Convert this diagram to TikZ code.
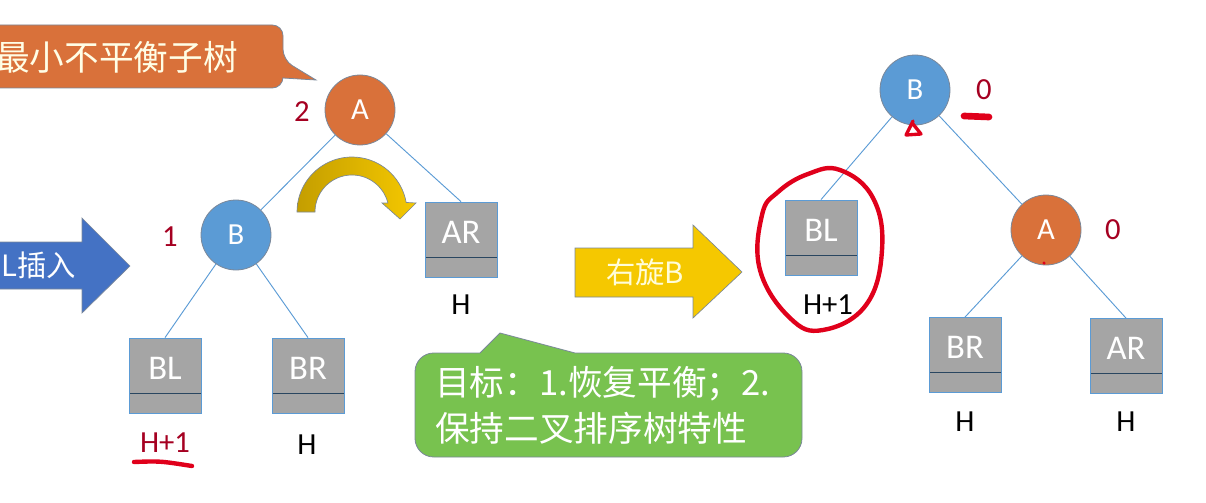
\documentclass[tikz,border=0pt]{standalone}
\usepackage{fontspec}
\setmainfont{Carlito}
\newfontfamily\cjk{Noto Sans CJK SC}
\usetikzlibrary{calc}
\definecolor{cNaranja}{HTML}{D9713A}
\definecolor{cAzul}{HTML}{5B9BD5}
\definecolor{cAzulF}{HTML}{4472C4}
\definecolor{cGris}{HTML}{A5A5A5}
\definecolor{cBorde}{HTML}{7A8799}
\definecolor{cRojo}{HTML}{A50021}
\definecolor{cTinta}{HTML}{E0001B}
\definecolor{cVerde}{HTML}{78C24F}
\definecolor{cAmar}{HTML}{F5C800}
\definecolor{cAmarD}{HTML}{C49E00}

\begin{document}
\begin{tikzpicture}[
    x=0.75pt, y=-0.75pt, font=\fontsize{23}{27}\selectfont,
    nodo/.style={circle, minimum size=52.5pt, inner sep=0pt, draw=cBorde, line width=0.6pt, text=white},
    nA/.style={nodo, fill=cNaranja},
    nB/.style={nodo, fill=cAzul},
    sub/.style={rectangle, minimum width=54pt, minimum height=56.25pt, inner sep=0pt,
        fill=cGris, draw=cAzul, line width=0.6pt, text=white,
        font=\fontsize{26}{30}\selectfont, text height=16.7pt, text depth=11pt,
        path picture={\draw[cAzul!45!black, line width=0.6pt]
            ([yshift=15pt]path picture bounding box.south west) --
            ([yshift=15pt]path picture bounding box.south east);}},
    rama/.style={draw=cAzul, line width=0.7pt},
    alt/.style={text=black},
    fb/.style={text=cRojo},
    cjkt/.style={font=\cjk\fontsize{26}{34.5}\selectfont, text=white, inner sep=0pt},
    flecha/.style={draw=cBorde, line width=0.5pt},
    tinta/.style={draw=cTinta, line width=3.3pt, line cap=round, line join=round},
]

\clip (0,0) rectangle (1206,503);

\def\cx{352}   % centro del arco amarillo
\def\cy{212}
\def\ro{55}    % radio exterior
\def\ri{37}    % radio interior

% ===================== Llamada: subárbol mínimo =====================
\path[fill=cNaranja, draw=cBorde, line width=0.6pt, rounded corners=8pt]
      (-20,25) -- (283,25) -- (283,60) [sharp corners] -- (316,80) -- (283,78)
      [rounded corners=8pt] -- (283,88) -- (-20,88) -- cycle;
\node[cjkt, text=white!90!yellow, anchor=west] (tMin) at (-5,57) {最小不平衡子树};

% ===================== Flecha de inserción =====================
\path[fill=cAzulF, flecha] (-10,242) -- (82,242) -- (82,218) -- (130,266)
      -- (82,313) -- (82,289) -- (-10,289) -- cycle;
\node[cjkt, font=\cjk\fontsize{22}{26}\selectfont, anchor=east] (tIns) at (76,265) {L插入};

% ===================== Árbol antes de rotar =====================
\node[nA] (lA) at (360,110) {A};
\node[nB] (lB) at (236,235) {B};
\node[sub] (lAR) at (461,239.5) {AR};
\node[sub] (lBL) at (165,375.5) {BL};
\node[sub] (lBR) at (308,375.5) {BR};

\draw[rama] (lA) -- (lB);
\draw[rama] (lA) -- (lAR.north);
\draw[rama] (lB) -- (lBL.north);
\draw[rama] (lB) -- (lBR.north);

\node[fb] (fA) at (302,112) {2};
\node[fb] (fB) at (170,237) {1};
\node[alt] (hAR) at (461,305) {H};
\node[fb] (hBL) at (165,443) {H+1};
\node[alt] (hBR) at (307,445) {H};

% Flecha curva: A baja a la derecha.
\path[left color=cAmarD, right color=cAmar, flecha]
      plot[domain=180:10, samples=40] ({\cx+\ro*cos(\x)},{\cy-\ro*sin(\x)})
      -- (416,203) -- (400,219) -- (382,203)
      -- plot[domain=14:180, samples=40] ({\cx+\ri*cos(\x)},{\cy-\ri*sin(\x)}) -- cycle;

% ===================== Llamada: objetivo =====================
\path[fill=cVerde, draw=cBorde, line width=0.6pt, rounded corners=14pt]
      (415,353) [sharp corners] -- (480,353) -- (500,333) -- (575,353)
      [rounded corners=14pt] -- (802,353) -- (802,457) -- (415,457) -- cycle;
\node[cjkt, anchor=west, align=left] (tObj) at (435,405)
      {目标：1.恢复平衡；2.\\保持二叉排序树特性};

% ===================== Flecha de rotación =====================
\path[fill=cAmar, flecha] (575,248) -- (693,248) -- (693,225) -- (742,272)
      -- (693,318) -- (693,297) -- (575,297) -- cycle;
\node[cjkt, font=\cjk\fontsize{22}{26}\selectfont, text=white!85!yellow] (tRot) at (645,272) {右旋B};

% ===================== Árbol después de rotar =====================
\node[nB] (rB) at (915,90) {B};
\node[nA] (rA) at (1046,230) {A};
\node[sub] (rBL) at (821,237.5) {BL};
\node[sub] (rBR) at (965,355) {BR};
\node[sub] (rAR) at (1126,356) {AR};

\draw[rama] (rB) -- (rBL.north);
\draw[rama] (rB) -- (rA);
\draw[rama] (rA) -- (rBR.north);
\draw[rama] (rA) -- (rAR.north);

\node[fb] (gB) at (984,90) {0};
\node[fb] (gA) at (1113,230) {0};
\node[alt] (hrBL) at (828,305) {H+1};
\node[alt] (hrBR) at (965,422) {H};
\node[alt] (hrAR) at (1126,422) {H};

% ===================== Trazos a mano =====================
\draw[tinta] (134,462) .. controls (160,461) .. (192,466);
\draw[tinta, line width=5pt] (964,116) -- (989,117);
\draw[tinta, line width=2.5pt] (913,121) -- (906,135) -- (921,134) -- (913,124);
\fill[cTinta] (1044,263) circle (1.3pt);
\draw[tinta] plot[smooth cycle, tension=0.7] coordinates
      {(840,170) (873,198) (882,250) (866,305) (823,330) (790,318) (760,270) (762,215) (778,192) (808,174)};

\end{tikzpicture}
\end{document}
